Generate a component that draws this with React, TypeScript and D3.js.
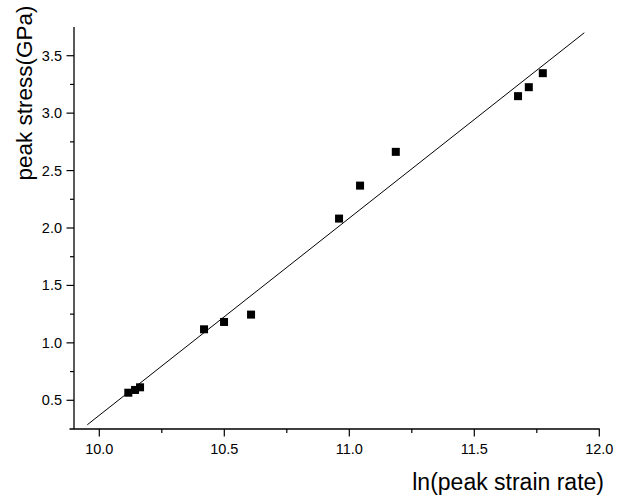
import React, { useEffect, useRef } from "react";
import * as d3 from "d3";

// measured points: ln(peak strain rate) vs peak stress (GPa)
const lnRate = [10.116, 10.143, 10.163, 10.419, 10.499, 10.607, 10.959, 11.043, 11.186, 11.675, 11.718, 11.774];
const stress = [0.566, 0.59, 0.613, 1.118, 1.182, 1.246, 2.082, 2.369, 2.663, 3.148, 3.226, 3.348];

// linear fit line endpoints
const fitX = [9.952, 11.94];
const fitY = [0.287, 3.70];

const xTicks = [10.0, 10.5, 11.0, 11.5, 12.0];
const yTicks = [0.5, 1.0, 1.5, 2.0, 2.5, 3.0, 3.5];

export default function App() {
  const svgRef = useRef<SVGSVGElement>(null);

  useEffect(() => {
    const svg = d3.select(svgRef.current);
    svg.selectAll("*").remove();

    const font = "'Liberation Sans', Arial, sans-serif";

    // scales, calibrated so 10.0 sits at ~99px and 12.0 at ~599px
    const xScale = d3.scaleLinear().domain([10, 12]).range([99.3, 599.3]);
    const yScale = d3.scaleLinear().domain([0.25, 3.75]).range([429, 27]);

    // x axis
    const xAxis = svg.append("g").attr("transform", "translate(0,429)");
    xAxis
      .append("line")
      .attr("x1", 69.5)
      .attr("x2", xScale(12) + 0.5)
      .attr("stroke", "#000")
      .attr("stroke-width", 1.3);
    const xMinor = d3.range(10.25, 12, 0.5);
    xAxis
      .selectAll(".minor")
      .data(xMinor)
      .enter()
      .append("line")
      .attr("x1", (d) => xScale(d))
      .attr("x2", (d) => xScale(d))
      .attr("y1", 0)
      .attr("y2", 4)
      .attr("stroke", "#000")
      .attr("stroke-width", 1.2);
    xAxis
      .selectAll(".major")
      .data(xTicks)
      .enter()
      .append("line")
      .attr("x1", (d) => xScale(d))
      .attr("x2", (d) => xScale(d))
      .attr("y1", 0)
      .attr("y2", 7.5)
      .attr("stroke", "#000")
      .attr("stroke-width", 1.2);
    xAxis
      .selectAll("text")
      .data(xTicks)
      .enter()
      .append("text")
      .attr("x", (d) => xScale(d))
      .attr("y", 25)
      .attr("text-anchor", "middle")
      .style("font-family", font)
      .style("font-size", "14.5px")
      .text((d) => d.toFixed(1));

    // y axis
    const yAxis = svg.append("g").attr("transform", "translate(74,0)");
    yAxis
      .append("line")
      .attr("y1", yScale(0.25))
      .attr("y2", yScale(3.75))
      .attr("stroke", "#000")
      .attr("stroke-width", 1.3);
    const yMinor = d3.range(0.75, 3.75, 0.5);
    yAxis
      .selectAll(".minor")
      .data(yMinor)
      .enter()
      .append("line")
      .attr("y1", (d) => yScale(d))
      .attr("y2", (d) => yScale(d))
      .attr("x1", 0)
      .attr("x2", -4)
      .attr("stroke", "#000")
      .attr("stroke-width", 1.2);
    yAxis
      .selectAll(".major")
      .data(yTicks)
      .enter()
      .append("line")
      .attr("y1", (d) => yScale(d))
      .attr("y2", (d) => yScale(d))
      .attr("x1", 0)
      .attr("x2", -7.5)
      .attr("stroke", "#000")
      .attr("stroke-width", 1.2);
    yAxis
      .selectAll("text")
      .data(yTicks)
      .enter()
      .append("text")
      .attr("x", -12)
      .attr("y", (d) => yScale(d) + 5)
      .attr("text-anchor", "end")
      .style("font-family", font)
      .style("font-size", "14.5px")
      .text((d) => d.toFixed(1));

    // fit line
    svg
      .append("line")
      .attr("x1", xScale(fitX[0]))
      .attr("y1", yScale(fitY[0]))
      .attr("x2", xScale(fitX[1]))
      .attr("y2", yScale(fitY[1]))
      .attr("stroke", "#000")
      .attr("stroke-width", 1);

    // data squares
    const size = 8;
    svg
      .selectAll(".pt")
      .data(lnRate.map((x, i) => ({ x, y: stress[i] })))
      .enter()
      .append("rect")
      .attr("x", (d) => xScale(d.x) - size / 2)
      .attr("y", (d) => yScale(d.y) - size / 2)
      .attr("width", size)
      .attr("height", size)
      .attr("fill", "#000");

    // axis titles
    svg
      .append("text")
      .attr("x", 604)
      .attr("y", 490)
      .attr("text-anchor", "end")
      .style("font-family", font)
      .style("font-size", "23px")
      .text("ln(peak strain rate)");

    svg
      .append("text")
      .attr("transform", "translate(32,93) rotate(-90)")
      .attr("text-anchor", "middle")
      .style("font-family", font)
      .style("font-size", "22.5px")
      .text("peak stress(GPa)");
  }, []);

  return (
    <svg
      ref={svgRef}
      width={625}
      height={501}
      style={{ position: "absolute", left: 0, top: 0, background: "#fff" }}
    ></svg>
  );
}
